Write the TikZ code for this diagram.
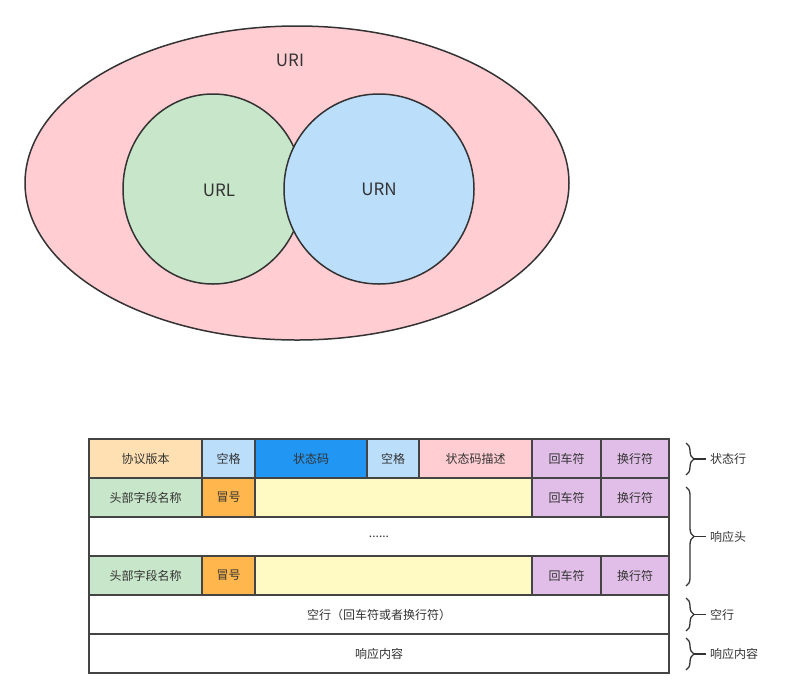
\documentclass[tikz,border=0pt]{standalone}
\usepackage{fontspec}
\setmainfont{Noto Sans CJK SC}
\usetikzlibrary{shapes.geometric,decorations.pathreplacing}

\definecolor{linegray}{HTML}{444444}
\definecolor{textgray}{HTML}{333333}
\definecolor{setred}{HTML}{FFCDD2}
\definecolor{setgreen}{HTML}{C8E6C9}
\definecolor{setblue}{HTML}{BBDEFB}
\definecolor{codeblue}{HTML}{2196F3}
\definecolor{verorange}{HTML}{FFE0B2}
\definecolor{colonorange}{HTML}{FFB74D}
\definecolor{valueyellow}{HTML}{FFF9C4}
\definecolor{crlfpurple}{HTML}{E1BEE7}

\begin{document}
\begin{tikzpicture}[x=1pt,y=-1pt,
    set/.style={ellipse,draw=textgray,line width=1.5pt,inner sep=0pt,font=\fontsize{17}{20}\selectfont,text=textgray},
    cell/.style={draw=linegray,line width=1.5pt,minimum height=39pt,inner sep=0pt,font=\fontsize{12}{14}\selectfont,text=textgray},
    rowbrace/.style={decorate,decoration={brace,amplitude=8pt},line width=1.3pt,draw=textgray},
    rowlabel/.style={anchor=west,inner sep=0pt,font=\fontsize{12}{14}\selectfont,text=textgray}]
    \useasboundingbox (0,0) rectangle (802,697);
    % Sets
    \node[set,fill=setred,minimum width=544pt,minimum height=314pt] (uri) at (297,183) {};
    \node[text=textgray,font=\fontsize{17}{20}\selectfont] (urilabel) at (290,60) {URI};
    \node[set,fill=setgreen,minimum width=180pt,minimum height=190pt] (url) at (213,189) {};
    \node[text=textgray,font=\fontsize{17}{20}\selectfont] (urllabel) at (219,190) {URL};
    \node[set,fill=setblue,minimum width=190pt,minimum height=190pt] (urn) at (379,189) {URN};
    % Status line
    \node[cell,fill=verorange,minimum width=113pt] (version) at (145.5,458.5) {协议版本};
    \node[cell,fill=setblue,minimum width=53pt] (spacea) at (228.5,458.5) {空格};
    \node[cell,fill=codeblue,minimum width=112pt] (code) at (311,458.5) {状态码};
    \node[cell,fill=setblue,minimum width=52pt] (spaceb) at (393,458.5) {空格};
    \node[cell,fill=setred,minimum width=113pt] (reason) at (475.5,458.5) {状态码描述};
    \node[cell,fill=crlfpurple,minimum width=69pt] (cra) at (566.5,458.5) {回车符};
    \node[cell,fill=crlfpurple,minimum width=68pt] (lfa) at (635,458.5) {换行符};
    % Header lines
    \node[cell,fill=setgreen,minimum width=113pt] (namea) at (145.5,497.5) {头部字段名称};
    \node[cell,fill=colonorange,minimum width=53pt] (colona) at (228.5,497.5) {冒号};
    \node[cell,fill=valueyellow,minimum width=277pt] (valuea) at (393.5,497.5) {};
    \node[cell,fill=crlfpurple,minimum width=69pt] (crb) at (566.5,497.5) {回车符};
    \node[cell,fill=crlfpurple,minimum width=68pt] (lfb) at (635,497.5) {换行符};
    \node[cell,fill=white,minimum width=580pt] (dots) at (379,536.5) {......};
    \node[cell,fill=setgreen,minimum width=113pt] (nameb) at (145.5,575.5) {头部字段名称};
    \node[cell,fill=colonorange,minimum width=53pt] (colonb) at (228.5,575.5) {冒号};
    \node[cell,fill=valueyellow,minimum width=277pt] (valueb) at (393.5,575.5) {};
    \node[cell,fill=crlfpurple,minimum width=69pt] (crc) at (566.5,575.5) {回车符};
    \node[cell,fill=crlfpurple,minimum width=68pt] (lfc) at (635,575.5) {换行符};
    % Blank line, body
    \node[cell,fill=white,minimum width=580pt] (blank) at (379,614.5) {空行（回车符或者换行符）};
    \node[cell,fill=white,minimum width=580pt] (body) at (379,653.5) {响应内容};
    % Braces
    \coordinate (bra) at (686,443);
    \coordinate (brb) at (686,475);
    \coordinate (brc) at (686,487);
    \coordinate (brd) at (686,586);
    \coordinate (bre) at (686,598);
    \coordinate (brf) at (686,631);
    \coordinate (brg) at (686,638);
    \coordinate (brh) at (686,670);
    \draw[rowbrace] (bra) -- (brb);
    \draw[rowbrace] (brc) -- (brd);
    \draw[rowbrace] (bre) -- (brf);
    \draw[rowbrace] (brg) -- (brh);
    \node[rowlabel] (statuslabel) at (710,459) {状态行};
    \node[rowlabel] (headerlabel) at (710,536.5) {响应头};
    \node[rowlabel] (blanklabel) at (710,614.5) {空行};
    \node[rowlabel] (bodylabel) at (710,654) {响应内容};
    \coordinate (tipa) at (694,459);
    \coordinate (tipb) at (694,536.5);
    \coordinate (tipc) at (694,614.5);
    \coordinate (tipd) at (694,654);
    \draw[line width=1.3pt,draw=textgray] (tipa) -- ([xshift=-4pt]statuslabel.west);
    \draw[line width=1.3pt,draw=textgray] (tipb) -- ([xshift=-4pt]headerlabel.west);
    \draw[line width=1.3pt,draw=textgray] (tipc) -- ([xshift=-4pt]blanklabel.west);
    \draw[line width=1.3pt,draw=textgray] (tipd) -- ([xshift=-4pt]bodylabel.west);
\end{tikzpicture}
\end{document}
